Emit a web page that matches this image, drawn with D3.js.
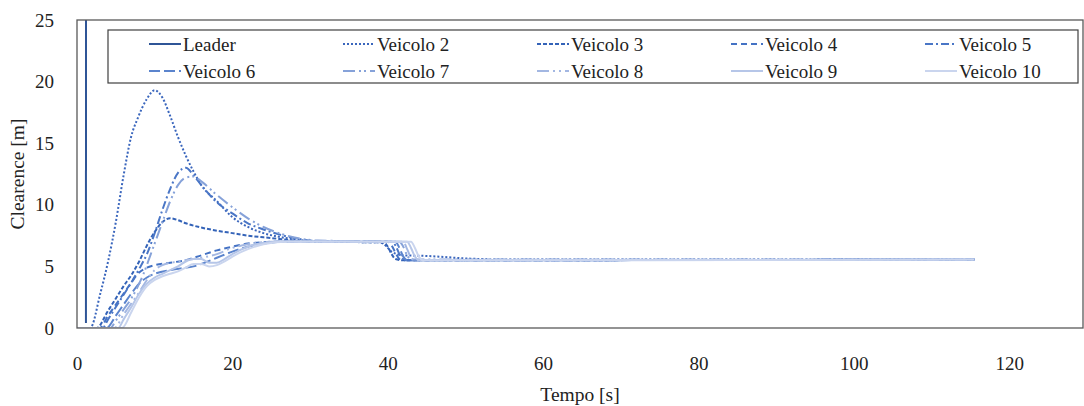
<!DOCTYPE html>
<html><head><meta charset="utf-8">
<script src="https://cdn.jsdelivr.net/npm/d3@7"></script>
<style>body{margin:0;background:#fff}svg{display:block}text{font-family:"Liberation Serif","Times New Roman",serif;fill:#222}</style>
</head><body><svg id="c" width="1084" height="406"></svg>
<script>
const seriesNames = ["Leader","Veicolo 2","Veicolo 3","Veicolo 4","Veicolo 5","Veicolo 6","Veicolo 7","Veicolo 8","Veicolo 9","Veicolo 10"];
const xTicks = [0,20,40,60,80,100,120];
const yTicks = [0,5,10,15,20,25];
const leader = [[1.15,0.4],[1.16,25]];
const veicolo2 = [[0,0],[1.7,0],[3,2.8],[4,5.4],[5,8.6],[6,12.4],[7,15.6],[7.8,17.0],[9,18.6],[10,19.3],[11,18.7],[12,17.2],[13,15.5],[14,14.0],[15,12.7],[16,11.6],[18,10.3],[20,9.0],[22,8.2],[24,7.7],[26,7.4],[28,7.2],[31,7.0],[39,6.95],[39.5,6.8],[40.5,6.2],[42,5.9],[45,5.85],[50,5.65],[55,5.55],[115.5,5.55]];
const veicolo3 = [[0,0],[2.5,0],[4,1.4],[5,2.4],[6,3.4],[7,4.3],[8,5.4],[9,6.7],[10,7.8],[11,8.6],[12,8.9],[13,8.75],[14,8.5],[16,8.15],[18,7.9],[20,7.7],[22,7.5],[25,7.3],[28,7.1],[31,7.0],[39.5,6.95],[40,6.6],[40.5,6.0],[41,5.6],[42,5.5],[115.5,5.55]];
const veicolo4 = [[0,0],[2.9,0],[4,1.0],[5,1.9],[6,2.8],[7,3.7],[8,4.5],[9,4.9],[10,5.1],[12,5.3],[14,5.5],[16,5.9],[18,6.3],[20,6.6],[22,6.85],[25,7.0],[28,7.05],[40,7.0],[40.5,6.7],[41,6.1],[41.5,5.6],[42,5.5],[115.5,5.55]];
const veicolo5 = [[0,0],[3.3,0],[4,0.7],[5,1.7],[6,2.7],[7,3.7],[8,4.8],[9,6.0],[10,7.7],[11,9.6],[12,11.3],[13,12.6],[14,13.0],[15,12.4],[16,11.6],[18,10.2],[20,9.3],[22,8.5],[24,8.0],[26,7.6],[28,7.3],[31,7.05],[40.5,7.0],[41,6.7],[41.5,6.0],[42,5.6],[42.5,5.5],[115.5,5.55]];
const veicolo6 = [[0,0],[3.8,0],[5,1.0],[6,1.9],[7,2.8],[8,3.6],[9,4.1],[10,4.4],[12,4.7],[14,4.9],[15,5.0],[16,5.2],[18,5.7],[20,6.2],[22,6.6],[24,6.85],[27,7.0],[41,7.0],[41.5,6.5],[42,5.8],[42.5,5.5],[115.5,5.55]];
const veicolo7 = [[0,0],[4.3,0],[5,0.6],[6,1.5],[7,2.4],[8,3.6],[8.5,4.3],[9.5,6.0],[11,8.6],[12,10.3],[13,11.6],[14,12.2],[15,12.3],[16,11.9],[18,10.8],[20,9.8],[22,8.9],[24,8.2],[26,7.7],[28,7.35],[31,7.1],[41.5,7.0],[42,6.6],[42.5,5.9],[43,5.55],[115.5,5.55]];
const veicolo8 = [[0,0],[4.8,0],[6,1.1],[7,2.0],[8,2.9],[9,3.9],[10,4.7],[11,5.1],[13,5.4],[15,5.6],[16,5.7],[18,6.0],[20,6.5],[22,6.8],[25,7.0],[42,7.0],[42.5,6.4],[43,5.7],[43.5,5.5],[115.5,5.55]];
const veicolo9 = [[0,0],[5.3,0],[6,0.7],[7,1.7],[8,2.8],[9,3.6],[10,4.1],[11,4.4],[12,4.7],[13,5.0],[14,5.4],[15,5.6],[16,5.6],[17,5.3],[18,5.3],[19,5.6],[20,6.0],[22,6.6],[24,6.9],[27,7.05],[42.5,7.0],[43,6.5],[43.5,5.8],[44,5.5],[115.5,5.55]];
const veicolo10 = [[0,0],[5.8,0],[7,1.3],[8,2.5],[9,3.4],[10,3.9],[11,4.2],[12,4.4],[13,4.6],[14,4.9],[15,5.2],[16,5.2],[17,5.0],[18,5.1],[19,5.4],[20,5.8],[22,6.4],[24,6.8],[27,7.0],[43,7.0],[43.5,6.5],[44,5.8],[44.5,5.5],[115.5,5.55]];
const seriesData = [leader,veicolo2,veicolo3,veicolo4,veicolo5,veicolo6,veicolo7,veicolo8,veicolo9,veicolo10];
const colors = ["#2F5597","#3A66BD","#3463B8","#4472C4","#4A76C6","#5B84CD","#86A2D9","#A3B7E2","#B6C6E8","#CAD5EE"];
const dashes = [null,"2,2","4,2","6,4","8,3,2,3","11,4","12,4,2,3,2,4","12,4,2,4,2,4",null,null];

const svg = d3.select("#c");
const m = {l:77,r:1083,t:20,b:328};
const x = d3.scaleLinear().domain([0,129.5]).range([m.l,m.r]);
const y = d3.scaleLinear().domain([0,25]).range([m.b,m.t]);

svg.append("clipPath").attr("id","cp").append("rect").attr("x",m.l).attr("y",m.t).attr("width",m.r-m.l).attr("height",m.b-m.t);
const g = svg.append("g").attr("clip-path","url(#cp)");
const line = d3.line().x(d=>x(d[0])).y(d=>y(d[1])).curve(d3.curveMonotoneX);
const lineLin = d3.line().x(d=>x(d[0])).y(d=>y(d[1]));
seriesData.forEach((s,i)=>{
  g.append("path").datum(s).attr("d", i===0?lineLin:line)
   .attr("fill","none").attr("stroke",colors[i]).attr("stroke-width",2)
   .attr("stroke-dasharray",dashes[i]);
});
// frame
svg.append("rect").attr("x",m.l).attr("y",m.t).attr("width",m.r-m.l).attr("height",m.b-m.t)
  .attr("fill","none").attr("stroke","#595959").attr("stroke-width",1.3);

// axes (labels only)
const xa = svg.append("g").attr("transform",`translate(0,${m.b})`).call(d3.axisBottom(x).tickValues(xTicks).tickSize(0).tickPadding(29));
const ya = svg.append("g").attr("transform",`translate(${m.l},0)`).call(d3.axisLeft(y).tickValues(yTicks).tickSize(0).tickPadding(23));
[xa,ya].forEach(a=>{a.select(".domain").remove();a.selectAll("text").style("font-family",'"Liberation Serif",serif').style("font-size","19px").attr("fill","#222");});
svg.append("text").attr("x",(m.l+m.r)/2).attr("y",401).attr("text-anchor","middle").style("font-size","19.5px").text("Tempo [s]");
svg.append("text").attr("transform",`translate(24,${(m.t+m.b)/2}) rotate(-90)`).attr("text-anchor","middle").style("font-size","19.5px").text("Clearence [m]");

// legend
svg.append("rect").attr("x",108).attr("y",30).attr("width",970).attr("height",53).attr("fill","#fff").attr("stroke","#404040").attr("stroke-width",1.2);
seriesNames.forEach((n,i)=>{
  const col=i%5,row=Math.floor(i/5);
  const lx=149+col*194, ly=44+row*27;
  svg.append("line").attr("x1",lx).attr("x2",lx+32).attr("y1",ly).attr("y2",ly)
    .attr("stroke",colors[i]).attr("stroke-width",2).attr("stroke-dasharray",dashes[i]);
  svg.append("text").attr("x",lx+34).attr("y",ly).attr("dy","0.35em").style("font-size","19px").text(n);
});
</script></body></html>
